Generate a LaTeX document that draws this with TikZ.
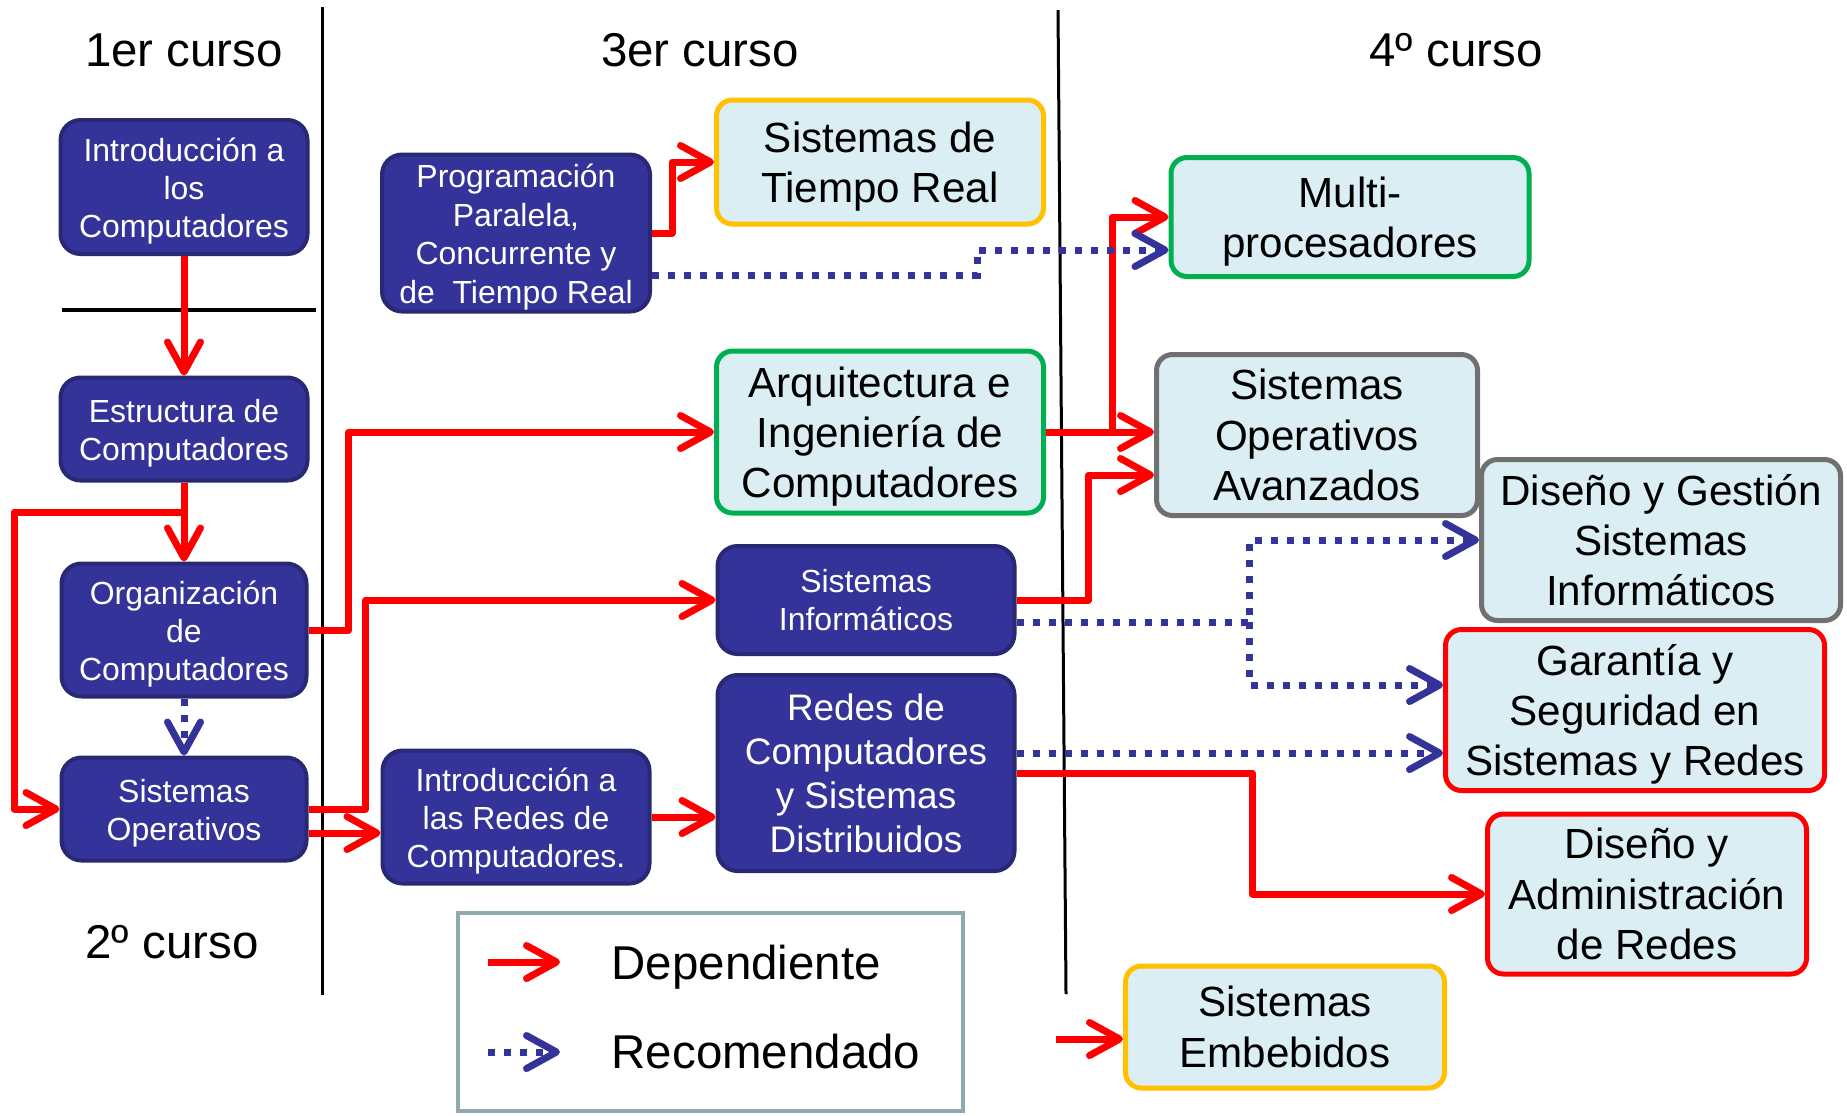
\documentclass[tikz,border=0pt]{standalone}
\usepackage{fontspec}
\setmainfont{Liberation Sans}
\usetikzlibrary{arrows.meta}
\definecolor{boxblue}{RGB}{51,51,153}
\definecolor{boxline}{RGB}{40,40,115}
\definecolor{paleblue}{RGB}{218,238,243}
\definecolor{goldline}{RGB}{255,192,0}
\definecolor{greenline}{RGB}{0,176,80}
\definecolor{greyline}{RGB}{112,112,112}
\definecolor{legline}{RGB}{143,170,173}
\newcommand{\darkpad}{\rule{0pt}{9pt}}
\newcommand{\palepad}{\rule{0pt}{11.4pt}}

\begin{document}
\begin{tikzpicture}[x=0.1mm,y=-0.1mm,
  dark/.style={draw=boxline,fill=boxblue,line width=0.4mm,rounded corners=2mm,text=white,align=center,inner sep=0pt,font=\fontsize{9.1}{10.9}\selectfont},
  pale/.style={fill=paleblue,line width=0.5mm,rounded corners=1.6mm,align=center,inner sep=0pt,font=\fontsize{12}{14.3}\selectfont},
  dep/.style={draw=red,line width=0.7mm,line join=round,-{Straight Barb[length=3mm,width=3.3mm,round]}},
  rec/.style={draw=boxblue,line width=0.7mm,dash pattern=on 0.7mm off 0.9mm,-{Straight Barb[length=3mm,width=3.3mm,round]}},
  year/.style={anchor=base,inner sep=0pt,font=\fontsize{13.5}{16}\selectfont}]
%%Location
\useasboundingbox (0,0) rectangle (1847,1115);
%%Lines
\draw[line width=0.3mm] (322,7) -- (322,995);
\draw[line width=0.3mm] (1058,10) -- (1066,994);
\draw[line width=0.45mm] (62,310) -- (316,310);

%%Years
\draw (184,66) node[year] (c1) {1er curso};
\draw (700,66) node[year] (c3) {3er curso};
\draw (1456,66) node[year] (c4) {4º curso};
\draw (172,958) node[year] (c2) {2º curso};

%%Dark boxes
\draw (184,187) node[dark,minimum width=24.7mm,minimum height=13.4mm] (intro) {\darkpad Introducción a\\los\\Computadores};
\draw (184,429) node[dark,minimum width=24.7mm,minimum height=10.3mm] (estr) {\darkpad Estructura de\\Computadores};
\draw (184,630) node[dark,minimum width=24.5mm,minimum height=13.3mm] (org) {\darkpad Organización\\de\\Computadores};
\draw (184,809) node[dark,minimum width=24.5mm,minimum height=10.3mm] (so) {\darkpad Sistemas\\Operativos};
\draw (516,233) node[dark,minimum width=26.8mm,minimum height=15.7mm,font=\fontsize{9.1}{11}\selectfont] (ppctr) {\darkpad Programación\\Paralela,\\Concurrente y\\de\ \ Tiempo Real};
\draw (516,817) node[dark,minimum width=26.7mm,minimum height=13.3mm] (introredes) {\darkpad Introducción a\\las Redes de\\Computadores.};
\draw (866,600) node[dark,minimum width=29.7mm,minimum height=10.8mm] (si) {Sistemas\\Informáticos};
\draw (866,773) node[dark,minimum width=29.7mm,minimum height=19.6mm,font=\fontsize{10.5}{12.5}\selectfont] (redes) {Redes de\\Computadores\\y Sistemas\\Distribuidos};

%%Pale boxes
\draw (880,162) node[pale,draw=goldline,minimum width=32.7mm,minimum height=12.4mm] (str) {\palepad Sistemas de\\Tiempo Real};
\draw (880,432) node[pale,draw=greenline,minimum width=32.7mm,minimum height=16.2mm] (arq) {\palepad Arquitectura e\\Ingeniería de\\Computadores};
\draw (1350,217) node[pale,draw=greenline,minimum width=35.8mm,minimum height=11.9mm] (multi) {\palepad Multi-\\procesadores};
\draw (1317,435) node[pale,draw=greyline,minimum width=32.1mm,minimum height=16.1mm] (soa) {Sistemas\\Operativos\\Avanzados};
\draw (1661,540) node[pale,draw=greyline,minimum width=35.9mm,minimum height=16.1mm] (dgsi) {Diseño y Gestión\\Sistemas\\Informáticos};
\draw (1635,710) node[pale,draw=red,minimum width=37.9mm,minimum height=16.1mm] (gssr) {\palepad Garantía y\\Seguridad en\\Sistemas y Redes};
\draw (1647,894) node[pale,draw=red,minimum width=31.9mm,minimum height=16mm] (dar) {Diseño y\\Administración\\de Redes};
\draw (1285,1027) node[pale,draw=goldline,minimum width=31.9mm,minimum height=12.2mm] (emb) {Sistemas\\Embebidos};

%%Dependiente
\draw[dep] (intro) -- (estr);
\draw[dep] (estr) -- (org);
\coordinate (lft) at (14,512);
\draw[dep] (estr.south) |- (lft) |- (so.west);
\draw[dep] (org.east) -- ++(40,0) |- (arq.west);
\draw[dep] (so.east) -- ++(57,0) |- (si.west);
\draw[dep] ([yshift=-2.4mm]so.east) -- ([yshift=-2.4mm]so.east -| introredes.west);
\draw[dep] (introredes.east) -- (introredes.east -| redes.west);
\draw[dep] (ppctr.east) -- ++(20,0) |- (str.west);
\draw[dep] (arq.east) -- (arq.east -| soa.west);
\draw[dep] (arq.east) -- ++(66,0) |- (multi.west);
\draw[dep] (si.east) -- ++(72,0) |- ([yshift=-4mm]soa.west);
\draw[dep] (redes.east) -- ++(236,0) |- (dar.west);
\coordinate (embin) at (1056,1039);
\draw[dep] (embin) -- (embin -| emb.west);

%%Recomendado
\draw[rec] (org) -- (so);
\draw[rec] ([yshift=-4.2mm]ppctr.east) -- ++(325,0) |- ([yshift=-3.3mm]multi.west);
\draw[rec] ([yshift=-2.2mm]si.east) -- ++(233,0) coordinate (sij) |- (dgsi.west);
\draw[rec] (sij) |- ([yshift=2.5mm]gssr.west);
\draw[rec] ([yshift=2mm]redes.east) -- ([yshift=2mm]redes.east -| gssr.west);

%%Legend
\draw[line width=0.45mm,draw=legline] (458,913) rectangle (963,1111);
\coordinate (d1) at (488,962);
\coordinate (d2) at (560,962);
\coordinate (r1) at (488,1052);
\coordinate (r2) at (560,1052);
\draw[dep] (d1) -- (d2);
\draw[rec] (r1) -- (r2);
\draw (611,979) node[year,anchor=base west] (ldep) {Dependiente};
\draw (611,1068) node[year,anchor=base west] (lrec) {Recomendado};
\end{tikzpicture}
\end{document}
